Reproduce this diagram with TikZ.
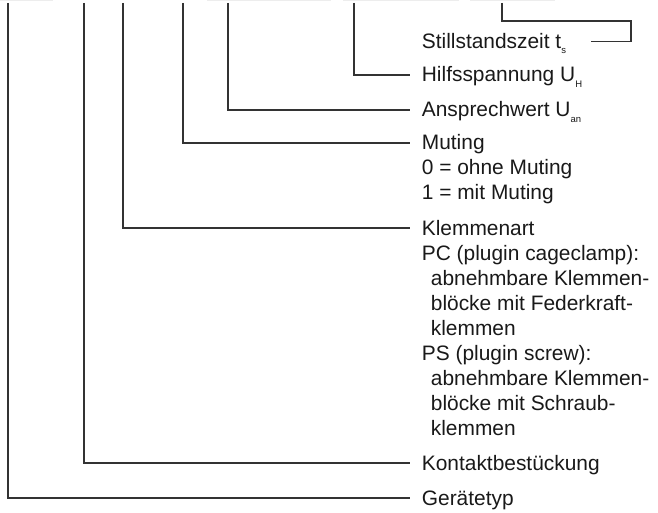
\documentclass[tikz,border=0pt]{standalone}
\usepackage{fontspec}
\setmainfont{Liberation Sans}
\usetikzlibrary{calc}
\newcommand{\mysub}[1]{\raisebox{-5.5pt}{\fontsize{9.5}{9.5}\selectfont #1}}
\begin{document}
\begin{tikzpicture}[x=1pt,y=-1pt,
  lbl/.style={anchor=base west, inner sep=0pt, font=\fontsize{20.9}{25}\selectfont, text=black!90},
  conn/.style={draw=black!80, line width=1.1pt},
  bar/.style={fill=black!7, draw=none}]
\useasboundingbox (0,0) rectangle (658,513);
% faint remnants at top edge
\fill[bar] (0,0) rectangle (53,1.5);
\fill[bar] (207,0) rectangle (331,1.5);
\fill[bar] (343,0) rectangle (459,1.5);
\fill[bar] (470,0) rectangle (555,1.5);
% labels
\node[lbl] (st) at (421.7,48.3) {Stillstandszeit t\mysub{s}};
\node[lbl] (hs) at (421.7,82) {Hilfsspannung U\mysub{H}};
\node[lbl] (an) at (421.7,117) {Ansprechwert U\mysub{an}};
\node[lbl] (mu) at (421.7,150) {Muting};
\node[lbl] (mu0) at (421.7,175) {0 = ohne Muting};
\node[lbl] (mu1) at (421.7,200) {1 = mit Muting};
\node[lbl] (ka) at (421.7,235) {Klemmenart};
\node[lbl] (pc) at (421.7,260) {PC (plugin cageclamp):};
\node[lbl] (pc1) at (430.7,285) {abnehmbare Klemmen-};
\node[lbl] (pc2) at (430.7,310) {blöcke mit Federkraft-};
\node[lbl] (pc3) at (430.7,335) {klemmen};
\node[lbl] (ps) at (421.7,360) {PS (plugin screw):};
\node[lbl] (ps1) at (430.7,385) {abnehmbare Klemmen-};
\node[lbl] (ps2) at (430.7,410) {blöcke mit Schraub-};
\node[lbl] (ps3) at (430.7,435) {klemmen};
\node[lbl] (kb) at (421.7,470) {Kontaktbestückung};
\node[lbl] (gt) at (421.7,505) {Gerätetyp};
% top ends of the leader lines
\coordinate (t1) at (8,3);
\coordinate (t2) at (84,3);
\coordinate (t3) at (123,3);
\coordinate (t4) at (183,3);
\coordinate (t5) at (228,3);
\coordinate (t6) at (354,3);
\coordinate (t7) at (502,3);
\coordinate (b1) at (631,21);
% connectors
\draw[conn] (t1) |- ($(gt.base west)+(-11.7,-7)$);
\draw[conn] (t2) |- ($(kb.base west)+(-11.7,-7)$);
\draw[conn] (t3) |- ($(ka.base west)+(-11.7,-7)$);
\draw[conn] (t4) |- ($(mu.base west)+(-11.7,-7)$);
\draw[conn] (t5) |- ($(an.base west)+(-11.7,-7)$);
\draw[conn] (t6) |- ($(hs.base west)+(-11.7,-7)$);
\draw[conn] (t7) |- (b1) |- ($(st.base west)+(169.3,-6.6)$);
\end{tikzpicture}
\end{document}
